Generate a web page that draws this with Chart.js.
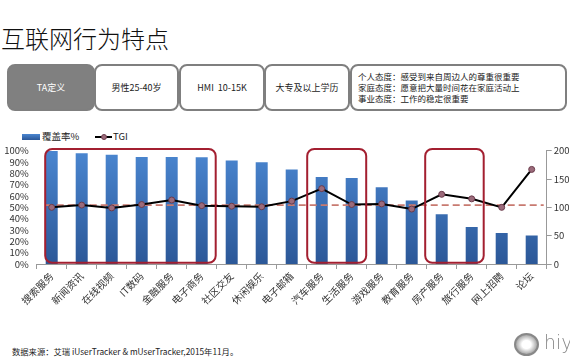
<!doctype html>
<html lang="zh">
    <head>
        <meta charset="UTF-8" />
        <title>互联网行为特点</title>
        <script src="https://cdn.jsdelivr.net/npm/chart.js"></script>
        <style>
            body { margin: 0; width: 570px; height: 360px; background: #fff; position: relative; overflow: hidden;
                   font-family: "Noto Sans CJK SC", sans-serif; color: #222; }
            .title { position: absolute; left: 1px; top: 25px; font-size: 24px; line-height: 26px; color: #111; font-weight: 300; }
            .box { position: absolute; top: 64px; height: 43px; border: 2px solid #7f7f7f; border-radius: 8px;
                   display: flex; align-items: center; justify-content: center; font-size: 9px; color: #222; box-sizing: content-box; }
            .box.dark { background: #808080; color: #fff; }
            .box.notes { justify-content: flex-start; padding-left: 6px; line-height: 11.2px; font-size: 8.5px; }
            .legend { position: absolute; top: 130px; font-size: 9.5px; color: #222; line-height: 12px; }
            .swatch { display: inline-block; width: 18px; height: 6px; vertical-align: middle;
                      background: linear-gradient(#4a86d0, #2b5797); margin-right: 2px; }
            .lineswatch { display: inline-block; position: relative; width: 17px; height: 8px; vertical-align: middle; margin-right: 1px; }
            .lineswatch:before { content: ''; position: absolute; left: 0; right: 0; top: 3px; height: 2px; background: #000; }
            .lineswatch:after { content: ''; position: absolute; left: 6px; top: 1px; width: 4px; height: 4px; border-radius: 50%;
                                background: #9b6b7b; border: 1px solid #6b3b4b; }
            .source { position: absolute; left: 12px; top: 345px; font-size: 8.3px; color: #222; }
            .logo { position: absolute; left: 514px; top: 333px; width: 21px; height: 19px; border-radius: 50%;
                    border: 2px solid #888; background: radial-gradient(#fff 30%, #aaa 70%); }
            .logotext { position: absolute; left: 544px; top: 331px; font-size: 19px; line-height: 22px; color: #888;
                        font-family: "DejaVu Sans", sans-serif; font-weight: 300; }
            #wrap { position: absolute; left: 0; top: 137px; width: 570px; height: 200px; }
        </style>
    </head>

    <body>
        <div class="title">互联网行为特点</div>
        <div class="box dark" style="left:7px;width:84px">TA定义</div>
        <div class="box" style="left:94px;width:81px">男性25-40岁</div>
        <div class="box" style="left:179px;width:82px">HMI&nbsp;&nbsp;10-15K</div>
        <div class="box" style="left:264px;width:82px">大专及以上学历</div>
        <div class="box notes" style="left:350px;width:207px">
            <div>个人态度：感受到来自周边人的尊重很重要<br />家庭态度：愿意把大量时间花在家庭活动上<br />事业态度：工作的稳定很重要</div>
        </div>

        <div class="legend" style="left:22px"><span class="swatch"></span>覆盖率%</div>
        <div class="legend" style="left:95px"><span class="lineswatch"></span>TGI</div>

        <div id="wrap"><canvas id="chart"></canvas></div>

        <div class="source">数据来源：艾瑞 iUserTracker &amp; mUserTracker,2015年11月。</div>
        <div class="logo"></div>
        <div class="logotext">hiy</div>

        <script>
            const categories = ['搜索服务', '新闻资讯', '在线视频', 'IT数码', '金融服务', '电子商务', '社区交友', '休闲娱乐', '电子邮箱',
                '汽车服务', '生活服务', '游戏服务', '教育服务', '房产服务', '旅行服务', '网上招聘', '论坛']
            const coverage = [99.7, 97.7, 96.5, 94.5, 94.5, 94.3, 91.3, 89.8, 83.5, 76.8, 76.0, 67.8, 56.0, 43.8, 32.7, 27.3, 25.2]
            const tgi = [100, 104, 99, 105, 113, 103, 102, 101, 111, 133, 105, 106, 97, 123, 115, 100, 167]
            const tgiBaseline = 104
            const highlightGroups = [[0, 5], [9, 10], [13, 14]]

            Chart.defaults.font.family = '"Noto Sans CJK SC", sans-serif'
            Chart.defaults.color = '#333'

            // bars get a vertical gradient like the original office chart
            function barFill(context) {
                const area = context.chart.chartArea
                if (!area) return '#3a6fb5'
                const g = context.chart.ctx.createLinearGradient(0, area.top, 0, area.bottom)
                g.addColorStop(0, '#4a86d0')
                g.addColorStop(1, '#2b5797')
                return g
            }

            // dashed reference line, drawn over the bars but under the TGI line
            const baselinePlugin = {
                id: 'baseline',
                afterDatasetDraw(chart, args) {
                    if (args.meta.type !== 'bar') return
                    const { ctx, chartArea } = chart
                    const y = chart.scales.y2.getPixelForValue(tgiBaseline)
                    ctx.save()
                    ctx.strokeStyle = '#c87a70'
                    ctx.lineWidth = 1.6
                    ctx.setLineDash([7, 4])
                    ctx.beginPath()
                    ctx.moveTo(chartArea.left + 9, y)
                    ctx.lineTo(chartArea.right - 3, y)
                    ctx.stroke()
                    ctx.restore()
                },
            }

            // red rounded boxes around the highlighted categories
            const groupPads = [[6.5, 14], [14.5, 14.5], [16.5, 12]]
            const highlightPlugin = {
                id: 'highlight',
                afterDatasetsDraw(chart) {
                    const { ctx } = chart
                    const x = chart.scales.x
                    const y = chart.scales.y
                    ctx.save()
                    ctx.strokeStyle = '#a31f30'
                    ctx.lineWidth = 2
                    highlightGroups.forEach(([a, b], i) => {
                        const x1 = x.getPixelForValue(a) - groupPads[i][0]
                        const x2 = x.getPixelForValue(b) + groupPads[i][1]
                        const y1 = y.getPixelForValue(101.5)
                        const y2 = y.getPixelForValue(1)
                        ctx.beginPath()
                        ctx.roundRect(x1, y1, x2 - x1, y2 - y1, 7)
                        ctx.stroke()
                    })
                    ctx.restore()
                },
            }

            new Chart(document.getElementById('chart'), {
                type: 'bar',
                data: {
                    labels: categories,
                    datasets: [
                        {
                            label: '覆盖率%',
                            data: coverage,
                            yAxisID: 'y',
                            backgroundColor: barFill,
                            categoryPercentage: 1,
                            barPercentage: 0.4,
                            order: 1,
                        },
                        {
                            type: 'line',
                            label: 'TGI',
                            data: tgi,
                            yAxisID: 'y2',
                            borderColor: '#000',
                            borderWidth: 2,
                            pointRadius: 3,
                            pointBackgroundColor: '#9b6b7b',
                            pointBorderColor: '#6b3b4b',
                            pointBorderWidth: 1,
                            tension: 0,
                            order: 0,
                        },
                    ],
                },
                options: {
                    responsive: true,
                    maintainAspectRatio: false,
                    animation: false,
                    layout: { padding: { top: 11, bottom: 23 } },
                    plugins: { legend: { display: false }, tooltip: { enabled: false } },
                    scales: {
                        x: {
                            grid: { display: true, drawOnChartArea: false, tickLength: 5, color: '#999' },
                            border: { color: '#999' },
                            ticks: { maxRotation: 45, minRotation: 45, autoSkip: false, padding: 1, font: { size: 10 }, color: '#333' },
                            afterFit: (s) => { s.height = 50 },
                        },
                        y: {
                            position: 'left',
                            min: 0,
                            max: 100,
                            grid: { display: false, drawTicks: false },
                            border: { display: false },
                            ticks: { stepSize: 10, autoSkip: false, padding: 8, callback: (v) => v + '%', font: { size: 9.5 }, color: '#333' },
                            afterFit: (s) => { s.width = 36.7 },
                        },
                        y2: {
                            position: 'right',
                            min: 0,
                            max: 200,
                            grid: { display: true, drawOnChartArea: false, tickLength: 5, color: '#999' },
                            border: { color: '#999' },
                            ticks: { stepSize: 50, autoSkip: false, padding: 2, font: { size: 9.5 }, color: '#333' },
                            afterFit: (s) => { s.width = 23.3 },
                        },
                    },
                },
                plugins: [baselinePlugin, highlightPlugin],
            })
        </script>
    </body>
</html>
